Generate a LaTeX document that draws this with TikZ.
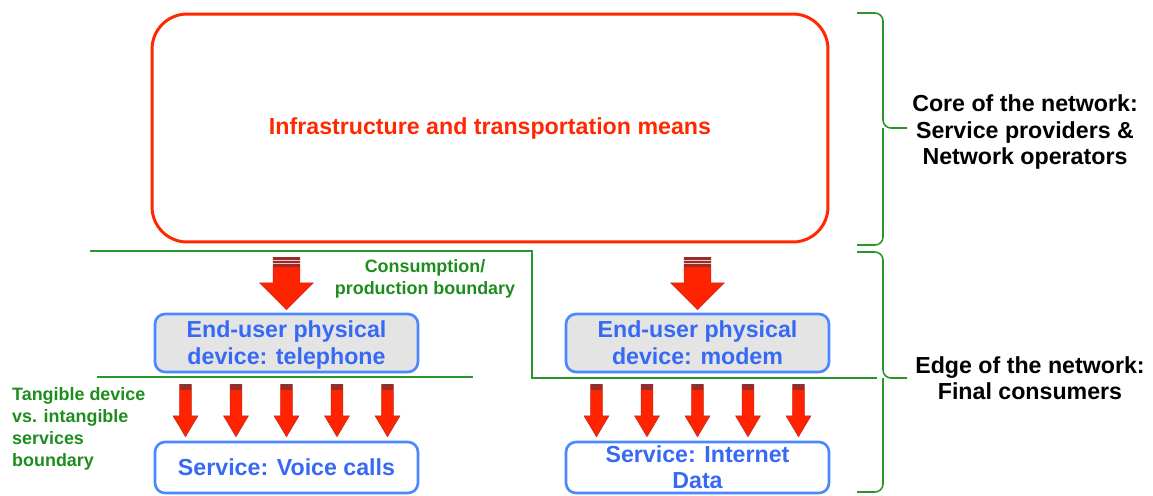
\documentclass[tikz,border=0pt]{standalone}
\usepackage{fontspec}
\setmainfont{Liberation Sans}
\usetikzlibrary{calc}
\definecolor{infra_red}{RGB}{255,40,0}
\definecolor{dev_blue}{RGB}{75,135,255}
\definecolor{text_blue}{RGB}{55,105,245}
\definecolor{dev_gray}{RGB}{228,228,228}
\definecolor{line_green}{RGB}{40,150,40}
\definecolor{text_green}{RGB}{30,140,30}
\definecolor{arrow_red}{RGB}{255,35,0}
\definecolor{arrow_dark}{RGB}{150,45,45}
% block arrow pointing down: from, to, half shaft, half head, head length
\newcommand\blockarrow[5]{%
  \path[arrowbody] let \p1=(#1), \p2=(#2) in
    ({\x1-#3},\y1) -- ({\x1-#3},{\y2+#5}) -- ({\x1-#4},{\y2+#5}) -- (\x1,\y2)
    -- ({\x1+#4},{\y2+#5}) -- ({\x1+#3},{\y2+#5}) -- ({\x1+#3},\y1) -- cycle;}
% dark cap on top of an arrow: point, half width, height
\newcommand\arrowcap[3]{%
  \fill[arrow_dark] let \p1=(#1) in ({\x1-#2},\y1) rectangle ({\x1+#2},{\y1-#3});}
\newcommand\stripedcap[2]{%
  \arrowcap{#1}{#2}{5.2pt}
  \draw[white!75!arrow_red,line width=0.6pt] let \p1=(#1) in
    ({\x1-#2},{\y1-1.8pt}) -- ({\x1+#2},{\y1-1.8pt})
    ({\x1-#2},{\y1-3.5pt}) -- ({\x1+#2},{\y1-3.5pt});}
% curly bracket opening to the left: top y, tip y, bottom y
\newcommand\bracket[3]{%
  \draw[bracket] (857,#1) -- (883,#1) -- (883,#2) -- (907,#2);
  \draw[bracket] (857,#3) -- (883,#3) -- (883,#2);}

\begin{document}
\begin{tikzpicture}[x=0.02cm,y=-0.02cm]
    \tikzstyle{infra}=[draw=infra_red,line width=1.7pt,rounded corners=0.7cm,minimum width=13.52cm,minimum height=4.56cm,text=infra_red,font=\fontsize{13.2}{16}\selectfont\bfseries]
    \tikzstyle{device}=[draw=dev_blue,fill=dev_gray,line width=1.5pt,rounded corners=0.2cm,minimum width=5.26cm,minimum height=1.16cm,inner sep=0pt,text depth=0.5pt,text=text_blue,align=center,font=\fontsize{13.2}{15.3}\selectfont\bfseries]
    \tikzstyle{service}=[style=device,fill=white,minimum height=1.02cm]
    \tikzstyle{boundary}=[draw=line_green,line width=1.1pt]
    \tikzstyle{bracket}=[draw=line_green,line width=0.9pt,rounded corners=0.16cm]
    \tikzstyle{side}=[align=center,font=\fontsize{13.2}{15}\selectfont\bfseries]
    \tikzstyle{note}=[text=text_green,font=\fontsize{10.2}{12.4}\selectfont\bfseries]
    \tikzstyle{arrowbody}=[fill=arrow_red,draw=arrow_dark!60!arrow_red,line width=0.3pt]

    \useasboundingbox (0,0) rectangle (1153,495);

    \node[infra]   (infra) at (490,128)   {Infrastructure and transportation means};
    \node[device]  (devT)  at (286.5,343) {End-user physical\\device: telephone};
    \node[device]  (devM)  at (697.5,343) {End-user physical\\device: modem};
    \node[service] (svcT)  at (286.5,467.5) {Service: Voice calls};
    \node[service] (svcM)  at (697.5,467.5) {Service: Internet\\Data};

    \node[side] (core) at (1025,132) {Core of the network:\\Service providers \&\\Network operators};
    \node[side] (edge) at (1030,378) {Edge of the network:\\Final consumers};

    \node[note,align=center]           (consume)  at (425,279) {Consumption/\\production boundary};
    \node[note,align=left,anchor=west] (tangible) at (6,429)   {Tangible device\\vs. intangible\\services\\boundary};

    % boundaries
    \draw[boundary] (90,251) -- (532,251) -- (532,378) -- (877,378);
    \draw[boundary] (97,377) -- (473,377);

    \bracket{13}{128}{245}
    \bracket{252}{378}{492}

    % arrows
    \blockarrow{$(infra.south -| devT.north)+(0,14)$}{$(devT.north)+(0,-3)$}{7.65pt}{15.3pt}{15.3pt}
    \blockarrow{$(infra.south -| devM.north)+(0,14)$}{$(devM.north)+(0,-3)$}{7.65pt}{15.3pt}{15.3pt}
    \stripedcap{$(infra.south -| devT.north)+(0,14)$}{7.65pt}
    \stripedcap{$(infra.south -| devM.north)+(0,14)$}{7.65pt}
    \foreach \d in {-101,-50.5,0,50.5,101} {
      \blockarrow{$(devT.south)+(\d,11)$}{$(svcT.north)+(\d,-4)$}{3.4pt}{7.1pt}{11.9pt}
      \blockarrow{$(devM.south)+(\d,11)$}{$(svcM.north)+(\d,-4)$}{3.4pt}{7.1pt}{11.9pt}
      \arrowcap{$(devT.south)+(\d,11)$}{3.4pt}{3.4pt}
      \arrowcap{$(devM.south)+(\d,11)$}{3.4pt}{3.4pt}
    }
\end{tikzpicture}
\end{document}
